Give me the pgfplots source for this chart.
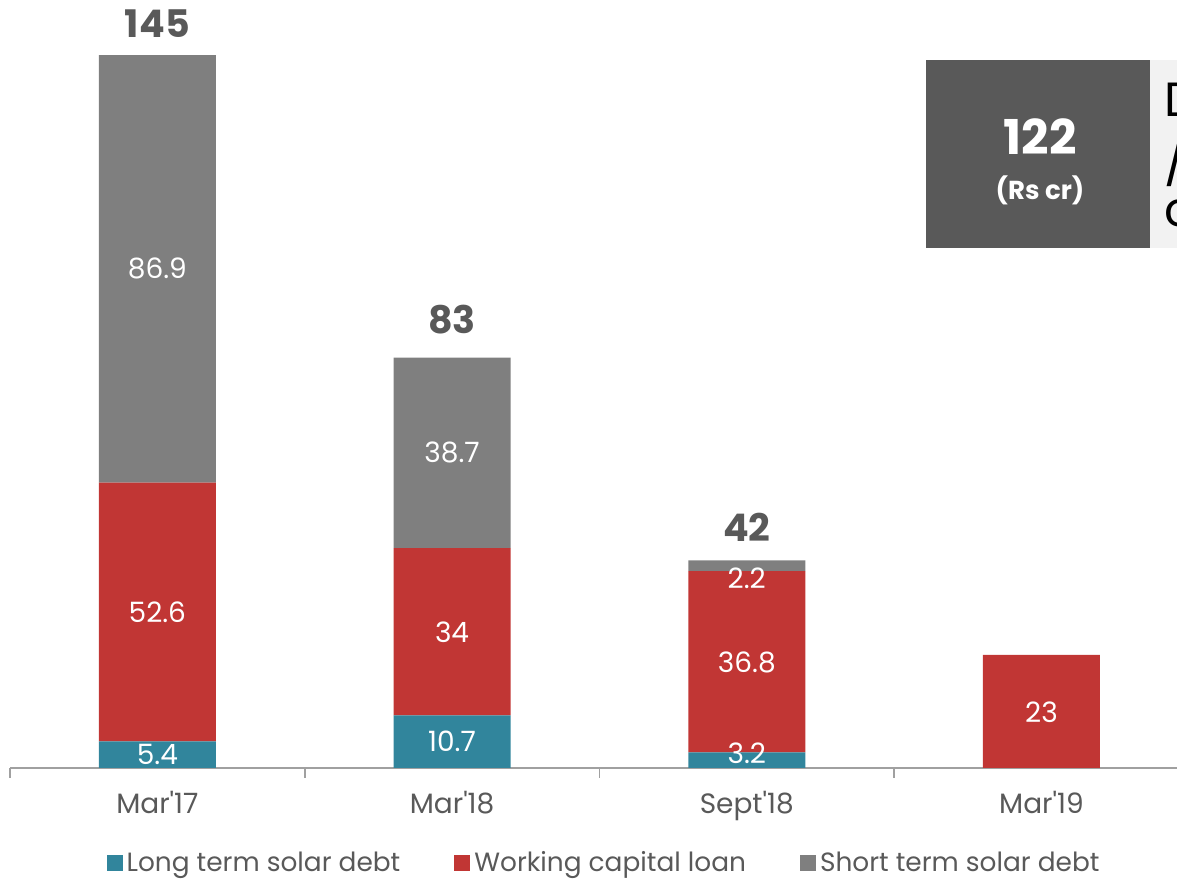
\documentclass[border=0pt]{standalone}
\usepackage{pgfplots}
\pgfplotsset{compat=1.18}
\usepackage{fontspec}
\setmainfont{Poppins}
\definecolor{cteal}{HTML}{31859C}
\definecolor{cred}{HTML}{C13634}
\definecolor{cgrey}{HTML}{7F7F7F}
\definecolor{ctext}{HTML}{595959}
\definecolor{cbox}{HTML}{595959}
\definecolor{clight}{HTML}{F2F2F2}
\definecolor{caxis}{HTML}{A0A0A0}
\begin{document}
\begin{tikzpicture}
\useasboundingbox (0,0) rectangle (588.5pt,440.5pt);
\clip (0,0) rectangle (588.5pt,440.5pt);
\begin{axis}[
  at={(5pt,56.5pt)}, anchor=south west,
  scale only axis,
  width=589.4pt, height=384pt,
  xmin=-0.5, xmax=3.5, ymin=0, ymax=156.1,
  ybar stacked, bar width=58.5pt,
  axis x line*=bottom,
  hide y axis,
  x axis line style={caxis, line width=0.8pt},
  xtick={0,1,2,3},
  xticklabels={Mar\textquotesingle17,Mar\textquotesingle18,Sept\textquotesingle18,Mar\textquotesingle19},
  major tick length=0pt,
  extra x ticks={-0.5,0.5,1.5,2.5,3.5},
  extra x tick labels={},
  extra x tick style={major tick length=5pt, tick align=outside, tick style={caxis, line width=0.8pt}},
  xticklabel style={font=\fontsize{14}{16}\selectfont, text=ctext, yshift=-8pt},
  legend columns=3,
  legend style={draw=none, fill=none, at={(axis description cs:0.5048,-0.1237)}, anchor=center,
    font=\fontsize{13.2}{16}\selectfont, text=ctext,
    /tikz/every even column/.append style={column sep=25pt}},
  legend cell align=left,
  clip=false,
]
\addplot+[draw=none, fill=cteal, legend image code/.code={\fill[cteal] (0pt,-4pt) rectangle (8pt,4pt);}]
  coordinates {(0,5.4) (1,10.7) (2,3.2) (3,0)};
\addlegendentry{Long term solar debt}
\addplot+[draw=none, fill=cred, legend image code/.code={\fill[cred] (0pt,-4pt) rectangle (8pt,4pt);}]
  coordinates {(0,52.6) (1,34) (2,36.8) (3,23)};
\addlegendentry{Working capital loan}
\addplot+[draw=none, fill=cgrey, legend image code/.code={\fill[cgrey] (0pt,-4pt) rectangle (8pt,4pt);}]
  coordinates {(0,86.9) (1,38.7) (2,2.2) (3,0)};
\addlegendentry{Short term solar debt}
\end{axis}
\begin{axis}[
  at={(5pt,56.5pt)}, anchor=south west,
  scale only axis,
  width=589.4pt, height=384pt,
  xmin=-0.5, xmax=3.5, ymin=0, ymax=156.1,
  hide axis, clip=false,
]
\addplot[only marks, mark=none, nodes near coords, point meta=explicit symbolic,
  nodes near coords style={white, anchor=center, font=\fontsize{14}{16}\selectfont}]
  table[meta=label] {
x y label
0 2.85 5.4
0 31.7 52.6
0 101.6 86.9
1 5.5 10.7
1 27.6 34
1 64.2 38.7
2 3.05 3.2
2 21.5 36.8
2 38.6 2.2
3 11.4 23
};
\addplot[only marks, mark=none, nodes near coords, point meta=explicit symbolic,
  nodes near coords style={ctext, anchor=center, font=\fontsize{19}{22}\selectfont\bfseries}]
  table[meta=label] {
x y label
0 151.2 145
1 91.1 83
2 49.0 42
};
\end{axis}
\fill[cbox] (463pt,316.5pt) rectangle (575pt,410.5pt);
\fill[clight] (575pt,316.5pt) rectangle (600pt,410.5pt);
\node[white, font=\fontsize{24}{28}\selectfont\bfseries] at (520pt,372pt) {122};
\node[white, font=\fontsize{13}{15}\selectfont\bfseries] at (520pt,345.5pt) {(Rs cr)};
\node[black, anchor=west, inner sep=0pt, font=\fontsize{24}{28}\selectfont] at (582pt,390.5pt) {D};
\node[black, anchor=west, inner sep=0pt, font=\fontsize{24}{28}\selectfont] at (582pt,360.5pt) {/};
\node[black, anchor=west, inner sep=0pt, font=\fontsize{24}{28}\selectfont] at (582pt,334pt) {c};
\end{tikzpicture}
\end{document}
